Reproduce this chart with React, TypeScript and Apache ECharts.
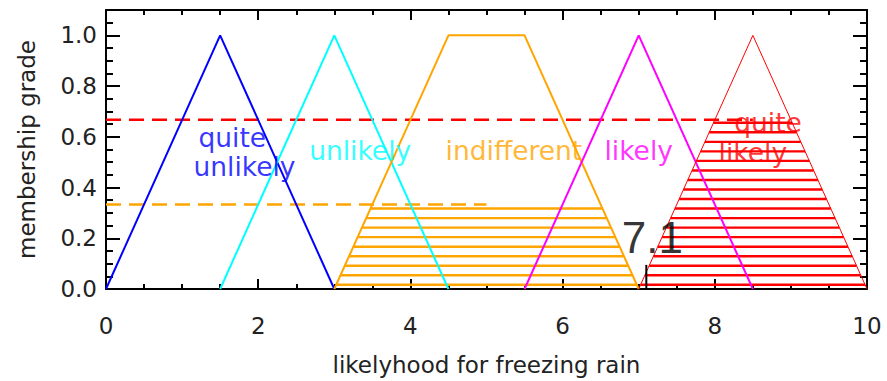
import React, { useEffect, useRef } from 'react';
import * as echarts from 'echarts';

// Membership functions (x, grade)
const quiteUnlikely = [[0, 0], [1.5, 1], [3, 0]];
const unlikely = [[1.5, 0], [3, 1], [4.5, 0]];
const indifferent = [[3, 0], [4.5, 1], [5.5, 1], [7, 0]];
const likely = [[5.5, 0], [7, 1], [8.5, 0]];
const quiteLikely = [[7, 0], [8.5, 1], [10, 0]];

// Activation levels and clipped (hatched) regions
const redLevel = [[0, 0.667], [8.5, 0.667]];
const orangeLevel = [[0, 0.333], [5, 0.333]];
const indifferentCut = [[3, 0], [3.5, 0.333], [6.5, 0.333], [7, 0]];
const quiteLikelyCut = [[7, 0], [8, 0.667], [9, 0.667], [10, 0]];

// Defuzzified result
const resultLine = [[7.1, 0], [7.1, 0.095]];
const resultText = '7.1';
const resultPos = [7.18, 0.205];

// Term labels
const labelTexts = ['quite', 'unlikely', 'unlikely', 'indifferent', 'likely', 'quite', 'likely'];
const labelX = [1.66, 1.82, 3.34, 5.36, 7.0, 8.7, 8.5];
const labelY = [0.597, 0.484, 0.546, 0.546, 0.546, 0.655, 0.54];
const labelColors = ['#0000ff', '#0000ff', '#00ffff', '#ffa500', '#ff00ff', '#ff0000', '#ff0000'];

const xTitle = 'likelyhood for freezing rain';
const yTitle = 'membership grade';

const FONT = 'DejaVu Sans';

function hatch(poly: number[][], color: string) {
  return (params: any, api: any) => {
    const pts = poly.map((p) => api.coord(p));
    const ys = pts.map((p: number[]) => p[1]);
    const yBottom = Math.max(...ys);
    const yTop = Math.min(...ys);
    const children: any[] = [];
    for (let y = yBottom - 4.2; y > yTop + 1; y -= 9.53) {
      const xs: number[] = [];
      for (let i = 0; i < pts.length; i++) {
        const a = pts[i];
        const b = pts[(i + 1) % pts.length];
        if ((a[1] - y) * (b[1] - y) < 0) {
          xs.push(a[0] + ((y - a[1]) * (b[0] - a[0])) / (b[1] - a[1]));
        }
      }
      xs.sort((p, q) => p - q);
      if (xs.length >= 2) {
        children.push({
          type: 'line',
          shape: { x1: xs[0], y1: y, x2: xs[xs.length - 1], y2: y },
          style: { stroke: color, lineWidth: 2.4 },
        });
      }
    }
    return { type: 'group', children };
  };
}

export default function App() {
  const ref = useRef<HTMLDivElement>(null);
  useEffect(() => {
    if (!ref.current) return;
    const chart = echarts.init(ref.current, undefined, { renderer: 'svg' });
    const axisLine = { show: true, onZero: false, lineStyle: { color: '#000', width: 2 } };
    const xAxisCommon = {
      type: 'value',
      min: 0,
      max: 10,
      interval: 2,
      splitLine: { show: false },
      axisLine,
    };
    const yAxisCommon = {
      type: 'value',
      min: 0,
      max: 1.1,
      interval: 0.2,
      splitLine: { show: false },
      axisLine,
    };
    const line = (data: number[][], color: string, width: number, type: any = 'solid', z = 3) => ({
      type: 'line',
      data,
      symbol: 'none',
      lineStyle: { color, width, type },
      itemStyle: { color },
      z,
      silent: true,
      animation: false,
    });
    const labelSeries = labelTexts.map((t, i) => ({
      type: 'scatter',
      data: [[labelX[i], labelY[i]]],
      symbolSize: 0,
      z: 5,
      label: {
        show: true,
        position: 'inside',
        formatter: t,
        color: labelColors[i],
        fontSize: 26.5,
        lineHeight: 20,
        fontFamily: FONT,
      },
    }));
    chart.setOption({
      animation: false,
      grid: { left: 106, top: 10, right: 20, bottom: 88.5, containLabel: false },
      xAxis: [
        {
          ...xAxisCommon,
          position: 'bottom',
          name: xTitle,
          nameLocation: 'middle',
          nameGap: 64,
          nameTextStyle: { fontSize: 23, fontFamily: FONT, color: '#222' },
          axisTick: { show: true, inside: true, length: 10, lineStyle: { color: '#000', width: 2 } },
          minorTick: { show: true, splitNumber: 4, length: 5, lineStyle: { color: '#000', width: 2 } },
          axisLabel: { fontSize: 23, fontFamily: FONT, color: '#222', margin: 25 },
        },
        {
          ...xAxisCommon,
          position: 'top',
          axisTick: { show: true, inside: true, length: 10, lineStyle: { color: '#000', width: 2 } },
          minorTick: { show: true, splitNumber: 4, length: 5, lineStyle: { color: '#000', width: 2 } },
          axisLabel: { show: false },
        },
      ],
      yAxis: [
        {
          ...yAxisCommon,
          position: 'left',
          name: yTitle,
          nameLocation: 'middle',
          nameGap: 68,
          nameTextStyle: { fontSize: 23, fontFamily: FONT, color: '#222' },
          axisTick: { show: true, inside: true, length: 14, lineStyle: { color: '#000', width: 2 } },
          minorTick: { show: true, splitNumber: 4, length: 7, lineStyle: { color: '#000', width: 2 } },
          axisLabel: {
            fontSize: 23,
            fontFamily: FONT,
            color: '#222',
            margin: 9,
            formatter: (v: number) => (v > 1.0001 ? '' : v.toFixed(1)),
          },
        },
        {
          ...yAxisCommon,
          position: 'right',
          axisTick: { show: true, inside: true, length: 14, lineStyle: { color: '#000', width: 2 } },
          minorTick: { show: true, splitNumber: 4, length: 7, lineStyle: { color: '#000', width: 2 } },
          axisLabel: { show: false },
        },
      ],
      series: [
        {
          type: 'custom',
          renderItem: hatch(indifferentCut, '#ffa500'),
          data: [[5, 0.1]],
          z: 2,
          silent: true,
        },
        {
          type: 'custom',
          renderItem: hatch(quiteLikelyCut, '#ff0000'),
          data: [[8.5, 0.1]],
          z: 2,
          silent: true,
        },
        line(redLevel, '#ff0000', 2.5, [15, 8]),
        line(orangeLevel, '#ffa500', 2.5, [15, 8]),
        line(quiteUnlikely, '#0000ff', 2),
        line(unlikely, '#00ffff', 2),
        line(indifferent, '#ffa500', 2),
        line(likely, '#ff00ff', 2),
        line(quiteLikely, '#ff0000', 1),
        line(resultLine, '#000000', 2),
        ...labelSeries,
        {
          type: 'scatter',
          data: [resultPos],
          symbolSize: 0,
          z: 6,
          label: {
            show: true,
            position: 'inside',
            formatter: resultText,
            color: '#000',
            fontSize: 44,
            fontFamily: 'Liberation Sans',
          },
        },
      ],
    });
    return () => chart.dispose();
  }, []);
  return (
    <div
      ref={ref}
      style={{ position: 'absolute', left: 0, top: 0, width: 887, height: 381, background: '#fff' }}
    />
  );
}
